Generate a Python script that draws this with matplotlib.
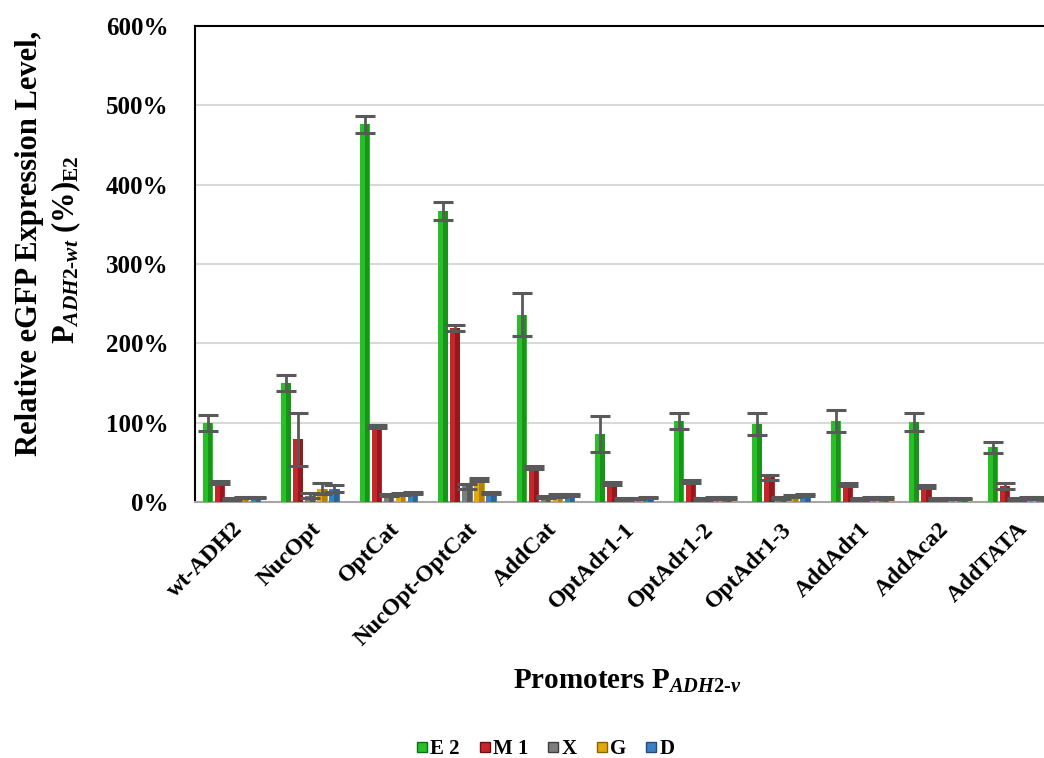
import numpy as np
import matplotlib
matplotlib.use("Agg")
import matplotlib.pyplot as plt
from matplotlib.lines import Line2D

plt.rcParams['font.family'] = 'Liberation Serif'
plt.rcParams['font.weight'] = 'bold'
plt.rcParams['mathtext.fontset'] = 'custom'
plt.rcParams['mathtext.rm'] = 'Liberation Serif:bold'
plt.rcParams['mathtext.it'] = 'Liberation Serif:italic:bold'
plt.rcParams['mathtext.bf'] = 'Liberation Serif:bold'

promoters = ['wt-ADH2', 'NucOpt', 'OptCat', 'NucOpt-OptCat', 'AddCat', 'OptAdr1-1',
             'OptAdr1-2', 'OptAdr1-3', 'AddAdr1', 'AddAca2', 'AddTATA']
series = ['E 2', 'M 1', 'X', 'G', 'D']

# values in %
e2 = [100, 150, 476, 367, 236, 86, 102, 98, 102, 101, 69]
m1 = [25, 79, 95, 219, 43, 23, 26, 31, 22, 20, 20]
x_ = [4, 8, 9, 20, 6, 3.5, 3.5, 5, 3.5, 3.5, 4]
g = [5.5, 17, 10, 28, 8, 4.5, 5, 7.5, 5, 4.5, 5]
d = [5.5, 17, 11, 11, 9, 5.5, 5, 9, 5, 4.5, 5]

e2_err = [10, 10, 11, 11, 27, 23, 10, 14, 14, 11, 7]
m1_err = [2, 33, 2, 4, 2, 2, 2, 3.5, 2, 2, 4]
x_err = [1, 3, 1.5, 3, 1.5, 1, 1, 1, 1, 1, 1]
g_err = [1, 7.5, 1.5, 2, 1.5, 1, 1, 1.5, 1, 1, 1]
d_err = [1, 5, 1.5, 1.5, 1.5, 1, 1, 1.5, 1, 1, 1]

values = [e2, m1, x_, g, d]
errors = [e2_err, m1_err, x_err, g_err, d_err]
colors = ['#27c027', '#c4262c', '#7d7d7d', '#e3a90a', '#3d7fc2']
darks = ['#0f6e0f', '#6e1013', '#3e3e3e', '#8a6400', '#1f4c7a']

fig = plt.figure(figsize=(10.44, 7.58), dpi=100)
ax = fig.add_axes([195 / 1044, 256 / 758, 849 / 1044, 476 / 758])

n = len(promoters)
centers = np.arange(n) + 0.5
step = 0.153
width = 0.13

for k in range(len(series)):
    pos = centers + (k - 2) * step
    vals = np.array(values[k])
    ax.bar(pos, vals, width, color=colors[k], zorder=3)
    # darker right side for the shaded look
    ax.bar(pos + width * 0.22, vals, width * 0.45, color=darks[k], alpha=0.55, zorder=3, linewidth=0)
    ax.errorbar(pos, vals, yerr=errors[k], fmt='none', ecolor='#595959',
                elinewidth=2, capsize=7.5, capthick=2.2, zorder=4)

ax.set_xlim(0.03, 10.845)
ax.set_ylim(0, 600)
ax.set_yticks(np.arange(0, 700, 100))
ax.set_yticklabels([f'{v}%' for v in range(0, 700, 100)], fontsize=18, fontweight='bold')
ax.set_xticks(centers)
ax.set_xticklabels(promoters, rotation=45, ha='right', va='top', rotation_mode='anchor',
                   fontsize=17, fontweight='bold')
ax.tick_params(axis='both', length=0)
ax.tick_params(axis='y', pad=19)
ax.tick_params(axis='x', pad=12)
ax.yaxis.grid(True, color='#d9d9d9', linewidth=1.5, zorder=0)
ax.set_axisbelow(True)
ax.spines['right'].set_visible(False)
ax.spines['top'].set_color('black')
ax.spines['top'].set_linewidth(1.5)
ax.spines['left'].set_color('black')
ax.spines['left'].set_linewidth(1.5)
ax.spines['bottom'].set_color('#a6a6a6')
ax.spines['bottom'].set_linewidth(1.5)

fig.text(627 / 1044, 1 - 681 / 758, r'Promoters P$_{ADH2\text{-}v}$', ha='center', va='center',
         fontsize=21, fontweight='bold')
fig.text(30 / 1044, 1 - 243 / 758, 'Relative eGFP Expression Level,', rotation=90,
         ha='center', va='center', fontsize=22, fontweight='bold')
fig.text(66 / 1044, 1 - 250 / 758, r'P$_{ADH2\text{-}wt}$ (%)$_{\mathrm{E2}}$', rotation=90,
         ha='center', va='center', fontsize=22, fontweight='bold')

handles = [Line2D([], [], marker='s', linestyle='none', markersize=7,
                  markerfacecolor=colors[k], markeredgecolor=darks[k], markeredgewidth=1)
           for k in range(len(series))]
fig.legend(handles, series, loc='center', bbox_to_anchor=(544 / 1044, 1 - 749 / 758), ncol=5,
           frameon=False, handletextpad=0.0, columnspacing=0.8, handlelength=0.8,
           prop={'family': 'Liberation Serif', 'weight': 'bold', 'size': 15})

fig.savefig('out.png', dpi=100)
